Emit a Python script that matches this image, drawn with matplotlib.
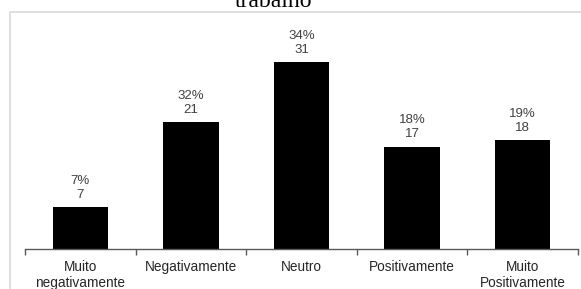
import matplotlib
matplotlib.use("Agg")
import matplotlib.pyplot as plt
from matplotlib.patches import Rectangle

categories = ["Muito\nnegativamente", "Negativamente", "Neutro", "Positivamente", "Muito\nPositivamente"]
counts = [7, 21, 31, 17, 18]
percents = ["7%", "32%", "34%", "18%", "19%"]
title = "trabalho"

plt.rcParams['font.family'] = ['Liberation Sans', 'DejaVu Sans']

W, H = 581, 289
fig = plt.figure(figsize=(W / 100, H / 100), dpi=100)

# light gray border box (partially outside the canvas)
fig.patches.append(Rectangle((10 / W, -0.1), 1.0, (H - 12) / H + 0.1, transform=fig.transFigure,
                             fill=False, edgecolor="#d9d9d9", linewidth=1.2))

left, right = 25 / W, 578 / W
bottom = (H - 249) / H
top = (H - 38) / H
ax = fig.add_axes([left, bottom, right - left, top - bottom])
ax.set_facecolor("none")

x = list(range(len(categories)))
bars = ax.bar(x, counts, width=0.5, color="black")
ax.set_xlim(-0.5, len(categories) - 0.5)
ax.set_ylim(0, 35)

for xi, c, p in zip(x, counts, percents):
    ax.annotate(f"{p}\n{c}", (xi, c), xytext=(0, 4.5), textcoords="offset points",
                ha="center", va="bottom", fontsize=9.5, color="#404040", linespacing=1.2)

for s in ["top", "right", "left"]:
    ax.spines[s].set_visible(False)
ax.spines["bottom"].set_color("#595959")
ax.spines["bottom"].set_linewidth(1.0)
ax.set_yticks([])
ax.set_xticks(x)
ax.set_xticklabels(categories, fontsize=9.8, color="#262626", linespacing=1.15)
ax.tick_params(axis="x", which="major", length=0, pad=8)
ax.set_xticks([i - 0.5 for i in range(len(categories) + 1)], minor=True)
ax.tick_params(axis="x", which="minor", length=4, direction="out", color="#595959", width=1.0)

fig.text(274 / W, (H - 7) / H, title, ha="center", va="baseline", fontsize=17,
         family=["Liberation Serif", "DejaVu Serif"], color="black")

fig.savefig("out.png", dpi=100)
